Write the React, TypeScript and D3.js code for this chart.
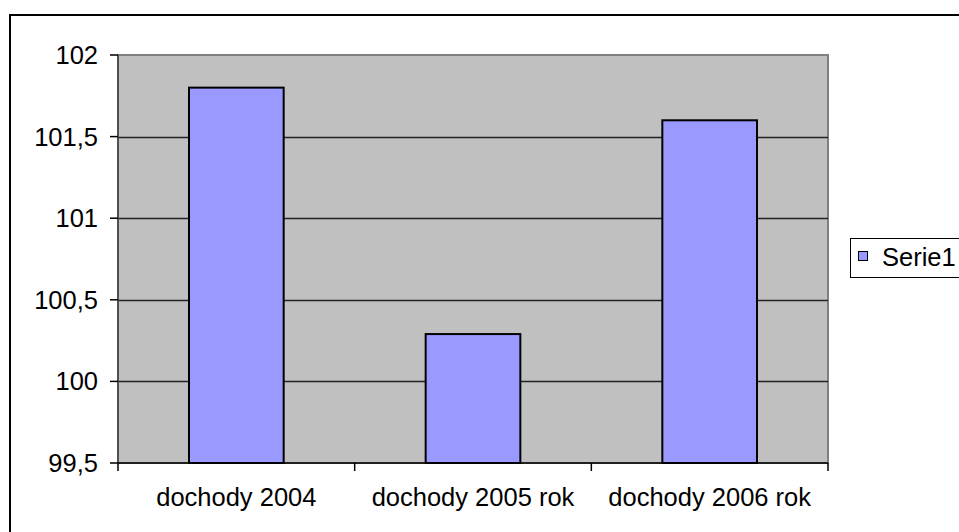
import * as d3 from "d3";

const categories = ["dochody 2004", "dochody 2005 rok", "dochody 2006 rok"];
const serie1 = [101.8, 100.29, 101.6];
const yTicks = [99.5, 100, 100.5, 101, 101.5, 102];
const seriesName = "Serie1";

const W = 959;
const H = 532;
const plot = { left: 118, right: 828, top: 55, bottom: 463 };
const font = "Arial, 'Liberation Sans', sans-serif";
const fs = 25.5;

export default function App() {
  const x = d3.scaleBand<string>().domain(categories).range([plot.left, plot.right]).padding(0);
  const y = d3.scaleLinear().domain([99.5, 102]).range([plot.bottom, plot.top]);
  const bw = x.bandwidth() * 0.4;
  const fmt = (v: number) => String(v).replace(".", ",");
  const edges = [...categories.map((c) => x(c) as number), plot.right];

  return (
    <svg
      width={W}
      height={H}
      style={{ position: "absolute", left: 0, top: 0, background: "#fff" }}
      fontFamily={font}
    >
      {/* chart frame, runs past the picture on right and bottom */}
      <rect x={10} y={15} width={1000} height={600} fill="#fff" stroke="#000" strokeWidth={2} />

      {/* plot area */}
      <rect
        x={plot.left}
        y={plot.top}
        width={plot.right - plot.left}
        height={plot.bottom - plot.top}
        fill="#C0C0C0"
        stroke="#808080"
        strokeWidth={2}
      />

      {/* gridlines */}
      {yTicks.slice(1, -1).map((t) => (
        <line
          key={t}
          x1={plot.left}
          x2={plot.right}
          y1={Math.round(y(t)) + 0.5}
          y2={Math.round(y(t)) + 0.5}
          stroke="#222"
          strokeWidth={1.3}
        />
      ))}

      {/* bars */}
      {categories.map((c, i) => {
        const cx = (x(c) as number) + x.bandwidth() / 2;
        return (
          <rect
            key={c}
            x={cx - bw / 2}
            y={y(serie1[i])}
            width={bw}
            height={y(99.5) - y(serie1[i])}
            fill="#9999FF"
            stroke="#000"
            strokeWidth={2}
          />
        );
      })}

      {/* y axis */}
      <line x1={plot.left} x2={plot.left} y1={plot.top} y2={plot.bottom} stroke="#404040" strokeWidth={1.5} />
      {yTicks.map((t) => (
        <g key={t}>
          <line x1={plot.left - 8} x2={plot.left} y1={y(t)} y2={y(t)} stroke="#000" strokeWidth={1.5} />
          <text x={98} y={y(t)} textAnchor="end" dominantBaseline="central" fontSize={fs} fill="#000">
            {fmt(t)}
          </text>
        </g>
      ))}

      {/* x axis */}
      <line x1={plot.left} x2={plot.right} y1={plot.bottom} y2={plot.bottom} stroke="#000" strokeWidth={1.5} />
      {edges.map((e, i) => (
        <line key={i} x1={e} x2={e} y1={plot.bottom} y2={plot.bottom + 8} stroke="#000" strokeWidth={1.5} />
      ))}
      {categories.map((c) => (
        <text
          key={c}
          x={(x(c) as number) + x.bandwidth() / 2}
          y={506}
          textAnchor="middle"
          fontSize={fs}
          fill="#000"
        >
          {c}
        </text>
      ))}

      {/* legend */}
      <rect x={850.5} y={238.5} width={140} height={39} fill="#fff" stroke="#000" strokeWidth={1} />
      <rect x={858.5} y={251.5} width={9} height={9} fill="#9999FF" stroke="#000" strokeWidth={1} />
      <text x={882} y={257} dominantBaseline="central" fontSize={fs} fill="#000">
        {seriesName}
      </text>
    </svg>
  );
}
